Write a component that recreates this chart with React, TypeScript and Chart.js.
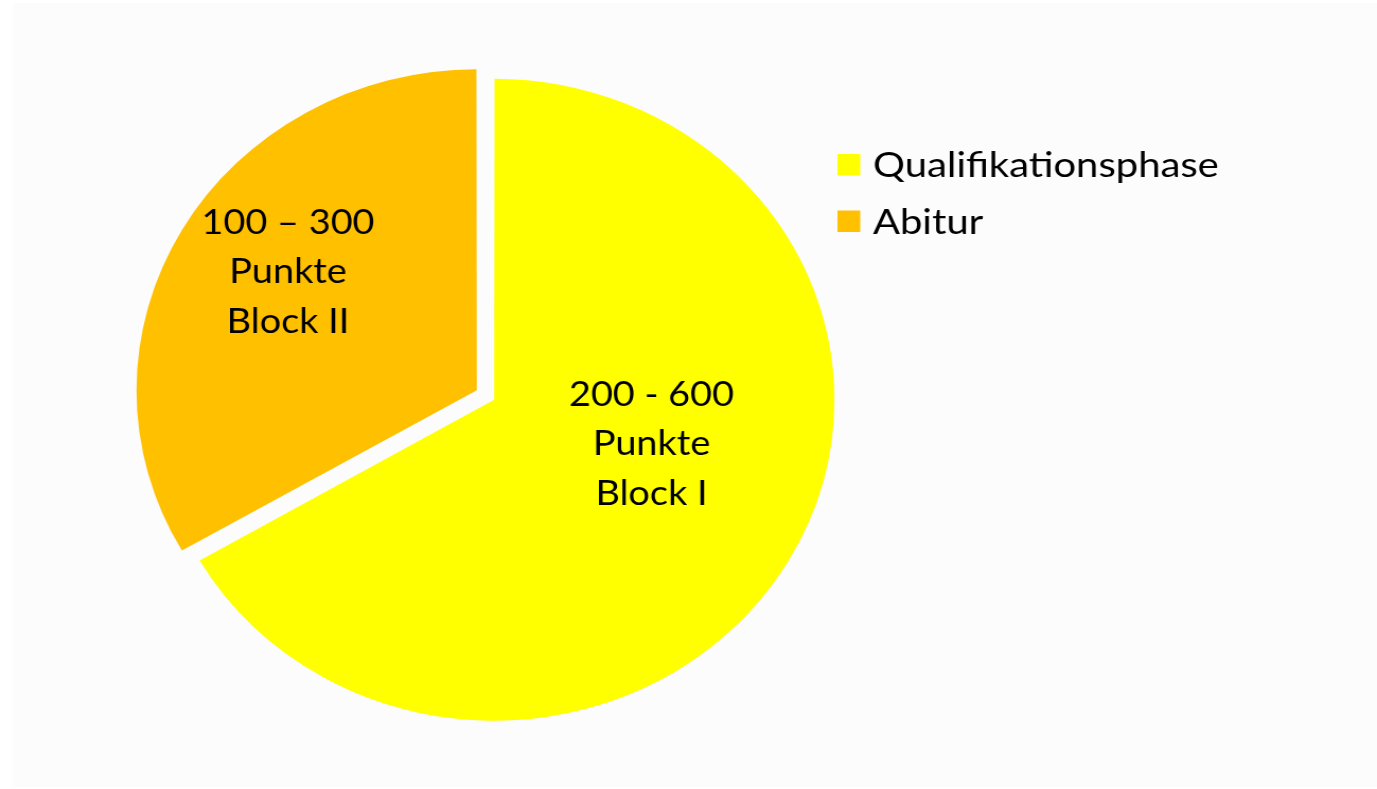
import React, { useEffect, useRef } from "react";
import { Chart, registerables } from "chart.js";

Chart.register(...registerables);

const categories = ["Qualifikationsphase", "Abitur"];
const pointsMax = [600, 300];
const sliceLabels = [
  ["200 - 600", "Punkte", "Block I"],
  ["100 \u2013 300", "Punkte", "Block II"],
];
const sliceColors = ["#FFFF00", "#FFC000"];
// Chart.js arc offsets (explode amounts) for each slice
const sliceOffsets = [8.9, 66.7];
// label anchor relative to each slice centre, as fraction of radius
const labelAnchors = [
  [0.4655, 0.1733],
  [-0.5587, -0.3364],
];

const FONT = "Lato, 'Open Sans', sans-serif";
const CANVAS_W = 1299;
const CANVAS_H = 789;
const STRETCH = 1377 / 1299;

function arcShift(arc: any) {
  return (arc.options.offset || 0) / 4;
}

const bgPlugin = {
  id: "bg",
  beforeDraw(chart: any) {
    const ctx = chart.ctx;
    ctx.save();
    ctx.fillStyle = "#FFFFFF";
    ctx.fillRect(0, 0, chart.width, chart.height);
    ctx.fillStyle = "#FCFCFC";
    ctx.fillRect(12, 3, chart.width - 12, chart.height - 5);
    ctx.restore();
  },
};

const labelPlugin = {
  id: "sliceLabels",
  afterDatasetsDraw(chart: any) {
    const ctx = chart.ctx;
    const meta = chart.getDatasetMeta(0);
    ctx.save();
    ctx.font = `34px ${FONT}`;
    ctx.fillStyle = "#000000";
    ctx.textAlign = "center";
    ctx.textBaseline = "alphabetic";
    meta.data.forEach((arc: any, i: number) => {
      const mid = (arc.startAngle + arc.endAngle) / 2;
      const sh = arcShift(arc);
      const cx = arc.x + Math.cos(mid) * sh;
      const cy = arc.y + Math.sin(mid) * sh;
      const lx = cx + arc.outerRadius * labelAnchors[i][0];
      const ly = cy + arc.outerRadius * labelAnchors[i][1];
      sliceLabels[i].forEach((t, k) => {
        ctx.save();
        ctx.translate(lx, ly + (k - 1) * 49.5);
        ctx.scale(1.05, 1);
        ctx.fillText(t, 0, 0);
        ctx.restore();
      });
    });
    ctx.restore();
  },
};

const legendPlugin = {
  id: "customLegend",
  afterDraw(chart: any) {
    const ctx = chart.ctx;
    const labels = chart.data.labels as string[];
    const colors = chart.data.datasets[0].backgroundColor as string[];
    const x0 = 790;
    const y0 = 177;
    const gap = 56.5;
    ctx.save();
    ctx.font = `34px ${FONT}`;
    ctx.textAlign = "left";
    ctx.textBaseline = "alphabetic";
    labels.forEach((lab, i) => {
      const yb = y0 + i * gap;
      ctx.fillStyle = colors[i];
      ctx.fillRect(x0, yb - 23, 21.5, 21.5);
      ctx.fillStyle = "#000000";
      ctx.save();
      ctx.translate(823.5, yb);
      ctx.scale(1.11, 1);
      ctx.fillText(lab, 0, 0);
      ctx.restore();
    });
    ctx.restore();
  },
};

export default function App() {
  const ref = useRef<HTMLCanvasElement | null>(null);
  useEffect(() => {
    if (!ref.current) return;
    const chart = new Chart(ref.current, {
      type: "pie",
      data: {
        labels: categories,
        datasets: [
          {
            data: pointsMax,
            backgroundColor: sliceColors,
            borderWidth: 0,
            offset: sliceOffsets,
            hoverOffset: 0,
          },
        ],
      },
      options: {
        responsive: false,
        animation: false,
        devicePixelRatio: 1,
        radius: 318.8,
        layout: { padding: { left: 0, right: 370.5, top: 8.3, bottom: 0 } },
        plugins: {
          legend: { display: false },
          tooltip: { enabled: false },
        },
        events: [],
      } as any,
      plugins: [bgPlugin, labelPlugin, legendPlugin],
    });
    return () => chart.destroy();
  }, []);
  return (
    <div
      style={{
        position: "absolute",
        left: 0,
        top: 0,
        width: CANVAS_W,
        height: CANVAS_H,
        transform: `scaleX(${STRETCH})`,
        transformOrigin: "0 0",
      }}
    >
      <canvas ref={ref} width={CANVAS_W} height={CANVAS_H} style={{ display: "block" }} />
    </div>
  );
}
